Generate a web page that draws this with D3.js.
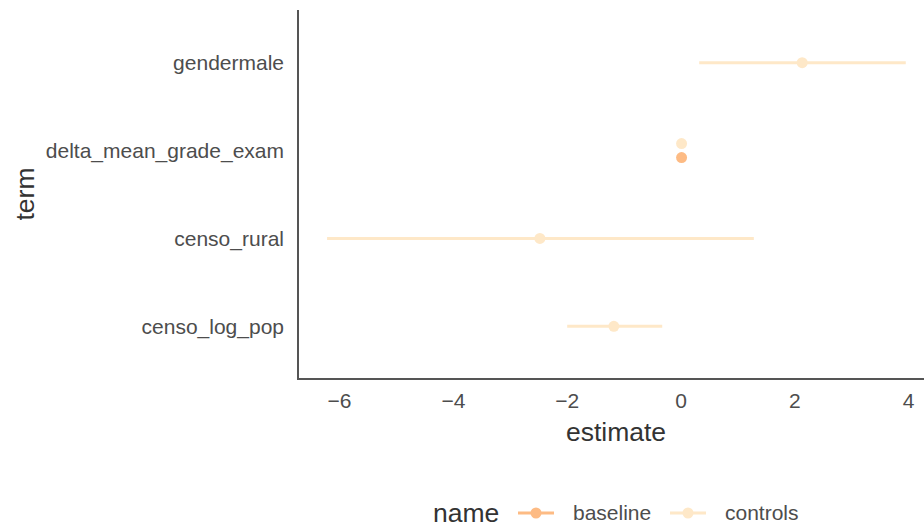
<!DOCTYPE html>
<html><head><meta charset="utf-8">
<script src="https://cdn.jsdelivr.net/npm/d3@7"></script>
<style>body{margin:0;background:#fff}svg{display:block;font-family:"Liberation Sans",Arial,sans-serif}</style>
</head><body><svg id="c" width="924" height="532"></svg>
<script>
const terms = ["gendermale","delta_mean_grade_exam","censo_rural","censo_log_pop"];
const seriesNames = ["baseline","controls"];
const seriesColors = ["#FDBB84","#FEE8C8"];
// controls series
const controlsTerm = ["gendermale","delta_mean_grade_exam","censo_rural","censo_log_pop"];
const controlsEst  = [2.13, 0.01, -2.48, -1.18];
const controlsLo   = [0.32, -0.02, -6.22, -2.00];
const controlsHi   = [3.95, 0.04, 1.28, -0.33];
// baseline series
const baselineTerm = ["delta_mean_grade_exam"];
const baselineEst  = [0.01];
const baselineLo   = [-0.02];
const baselineHi   = [0.04];
const xTicks = [-6,-4,-2,0,2,4];

const svg = d3.select("#c");
const L = 298, R = 924, T = 10, B = 379;
const x = d3.scaleLinear().domain([(L-681)/56.9, (R-681)/56.9]).range([L, R]);
const y = d3.scalePoint().domain(terms).range([T, B]).padding(0.6);
const dodge = 7;

const data = [];
baselineTerm.forEach((t,i)=>data.push({s:0,term:t,est:baselineEst[i],lo:baselineLo[i],hi:baselineHi[i]}));
controlsTerm.forEach((t,i)=>data.push({s:1,term:t,est:controlsEst[i],lo:controlsLo[i],hi:controlsHi[i]}));
const counts = d3.rollup(data, v=>v.length, d=>d.term);
function yPos(d){ return y(d.term) + (counts.get(d.term) > 1 ? (d.s===0 ? dodge : -dodge) : 0); }

const g = svg.append("g");
g.selectAll("line.ci").data(data).join("line")
  .attr("x1",d=>x(d.lo)).attr("x2",d=>x(d.hi))
  .attr("y1",yPos).attr("y2",yPos)
  .attr("stroke",d=>seriesColors[d.s]).attr("stroke-width",3);
g.selectAll("circle").data(data).join("circle")
  .attr("cx",d=>x(d.est)).attr("cy",yPos).attr("r",5.5)
  .attr("fill",d=>seriesColors[d.s]);

// axes lines
svg.append("path").attr("d",`M${L},${T}V${B}H${R}`).attr("fill","none").attr("stroke","#555").attr("stroke-width",2);

// x tick labels
svg.append("g").selectAll("text").data(xTicks).join("text")
  .attr("x",d=>x(d)).attr("y",408).attr("text-anchor","middle")
  .attr("font-size",21).attr("fill","#4d4d4d")
  .text(d=>d<0?"\u2212"+Math.abs(d):d);
// y tick labels
svg.append("g").selectAll("text").data(terms).join("text")
  .attr("x",284).attr("y",d=>y(d)).attr("dy","0.35em").attr("text-anchor","end")
  .attr("font-size",21).attr("fill","#4d4d4d").text(d=>d);

svg.append("text").attr("x",616).attr("y",441).attr("text-anchor","middle")
  .attr("font-size",26.5).attr("fill","#333").text("estimate");
svg.append("text").attr("transform","translate(34,194) rotate(-90)").attr("text-anchor","middle")
  .attr("font-size",26.5).attr("fill","#333").text("term");

// legend
const lg = svg.append("g");
lg.append("text").attr("x",433).attr("y",522).attr("font-size",26.5).attr("fill","#333").text("name");
const keyX = [518, 670];
const textX = [573, 725];
seriesNames.forEach((n,i)=>{
  lg.append("line").attr("x1",keyX[i]).attr("x2",keyX[i]+36).attr("y1",513).attr("y2",513)
    .attr("stroke",seriesColors[i]).attr("stroke-width",3);
  lg.append("circle").attr("cx",keyX[i]+18).attr("cy",513).attr("r",5.5).attr("fill",seriesColors[i]);
  lg.append("text").attr("x",textX[i]).attr("y",513).attr("dy","0.35em").attr("font-size",21).attr("fill","#4d4d4d").text(n);
});
</script></body></html>
